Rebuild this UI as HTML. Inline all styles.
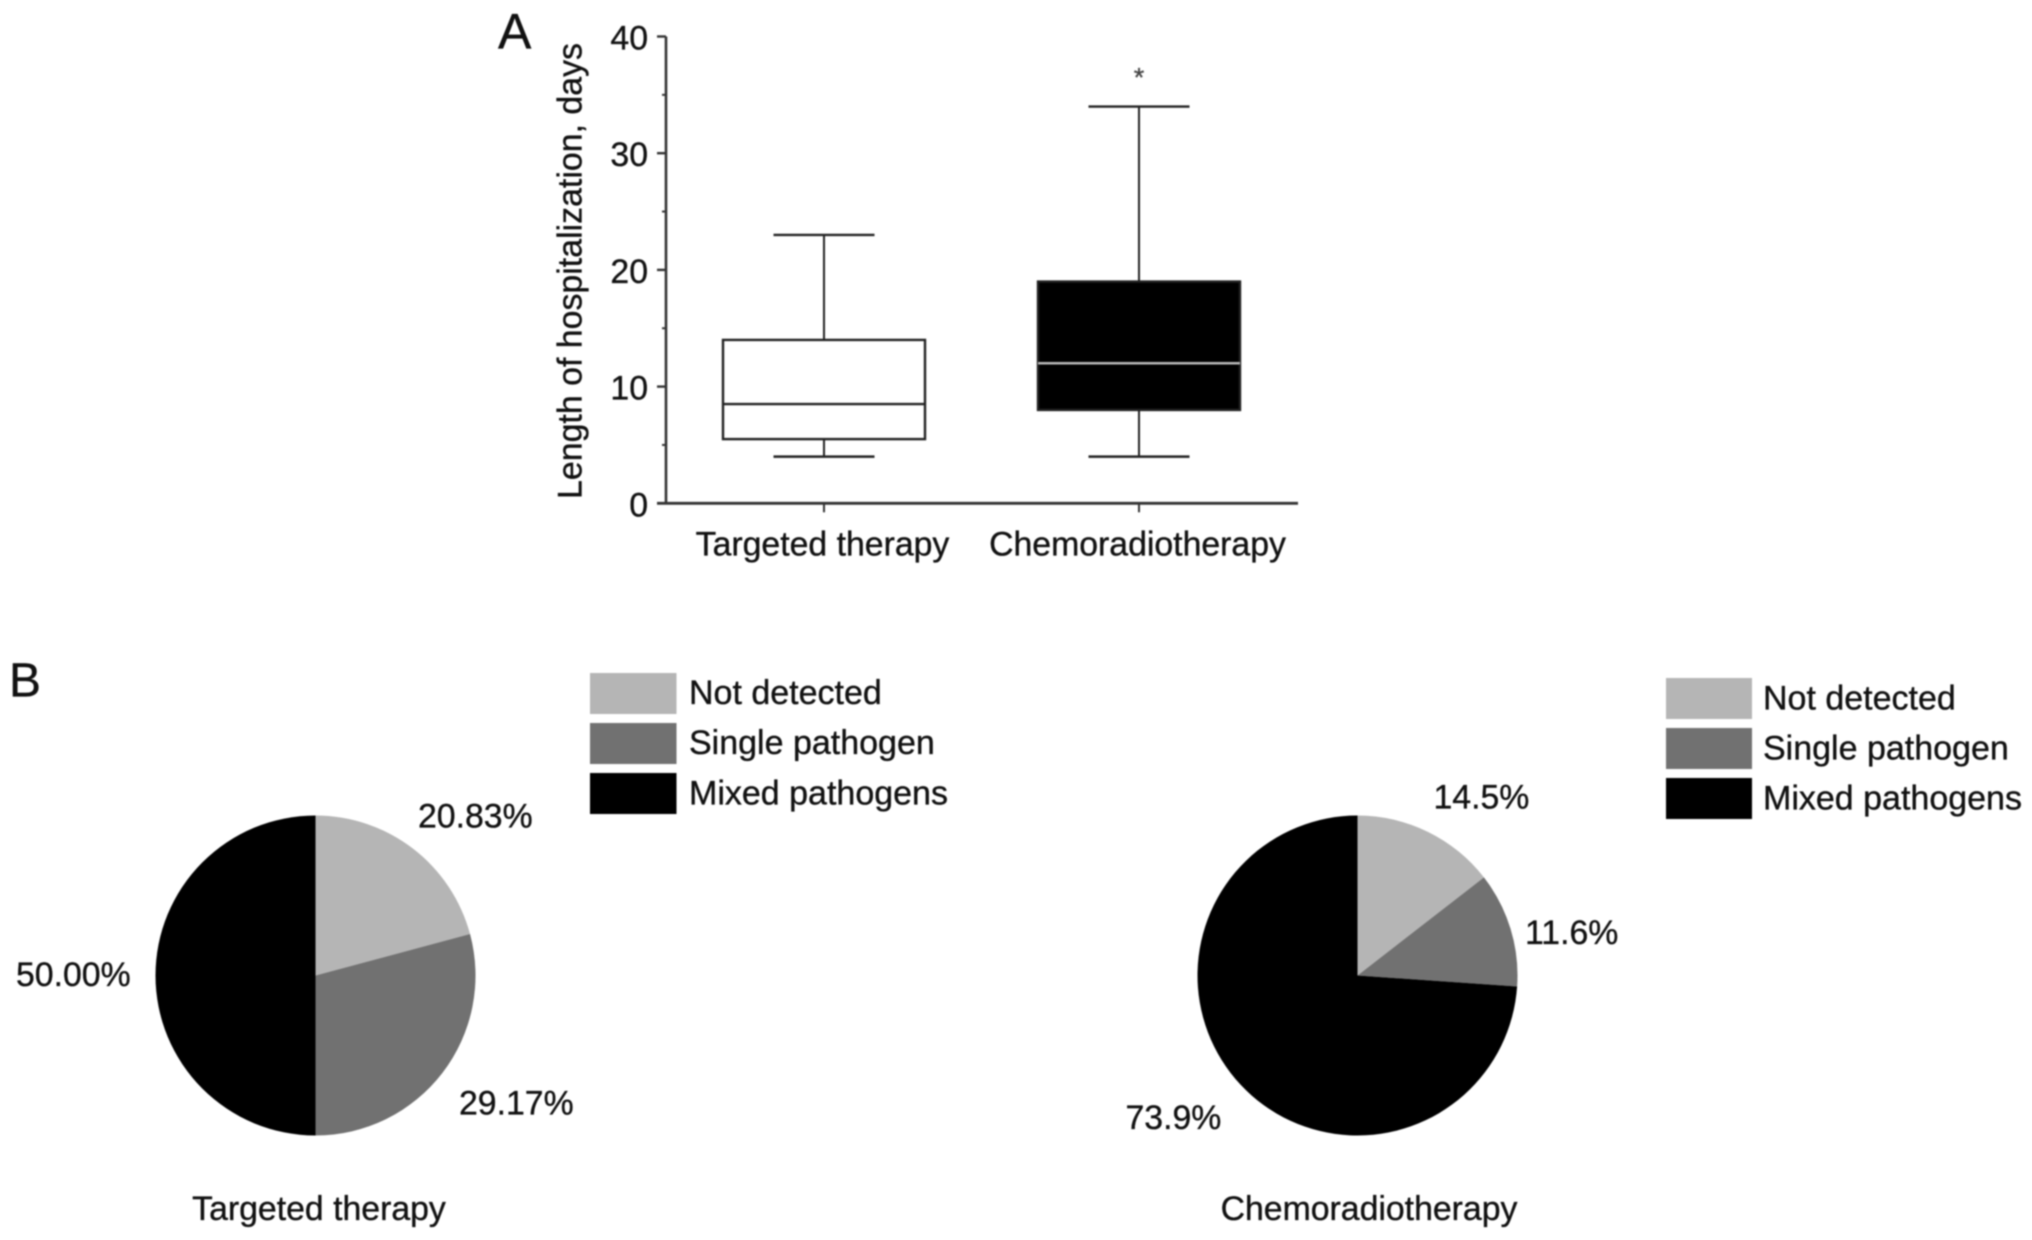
<!DOCTYPE html>
<html lang="en">
<head>
<meta charset="utf-8">
<title>Length of hospitalization and pathogen detection</title>
<style>
  html, body { margin: 0; padding: 0; background: #fff; }
  body { width: 2032px; height: 1240px; overflow: hidden; }
  svg { display: block; filter: blur(0.8px); }
  text { font-family: "Liberation Sans", sans-serif; font-size: 33.8px; fill: #111; stroke: #111; stroke-width: 0.35px; }
</style>
</head>
<body>
<svg id="figure" xmlns="http://www.w3.org/2000/svg" width="2032" height="1240" viewBox="0 0 2032 1240">
  <rect x="0" y="0" width="2032" height="1240" fill="#fff"/>

  <text x="498" y="48.5" style="font-size:50px">A</text>
  <text x="9" y="696.5" style="font-size:48px">B</text>

  <g id="box-chart"></g>
  <text transform="translate(581.5 271) rotate(-90)" text-anchor="middle" style="font-size:33.9px">Length of hospitalization, days</text>
  <text x="1139" y="86.5" text-anchor="middle" style="font-size:27px;fill:#444;stroke:#444">*</text>

  <g id="pie-targeted"></g>
  <text x="418" y="827.5">20.83%</text>
  <text x="459" y="1114.5">29.17%</text>
  <text x="16" y="986">50.00%</text>
  <text x="319" y="1220" text-anchor="middle">Targeted therapy</text>

  <g>
    <rect x="590" y="673" width="86.5" height="41" fill="#b5b5b5"/>
    <text x="689" y="704" style="font-size:34px">Not detected</text>
    <rect x="590" y="723" width="86.5" height="41" fill="#717171"/>
    <text x="689" y="754" style="font-size:34px">Single pathogen</text>
    <rect x="590" y="773" width="86.5" height="41" fill="#000"/>
    <text x="689" y="804.5" style="font-size:34px">Mixed pathogens</text>
  </g>

  <g id="pie-chemo"></g>
  <text x="1433.5" y="808.5">14.5%</text>
  <text x="1525" y="944">11.6%</text>
  <text x="1125.5" y="1129">73.9%</text>
  <text x="1369" y="1220" text-anchor="middle">Chemoradiotherapy</text>

  <g>
    <rect x="1666" y="678" width="86" height="41" fill="#b5b5b5"/>
    <text x="1763" y="709.5" style="font-size:34px">Not detected</text>
    <rect x="1666" y="728" width="86" height="41" fill="#717171"/>
    <text x="1763" y="759.5" style="font-size:34px">Single pathogen</text>
    <rect x="1666" y="778" width="86" height="41" fill="#000"/>
    <text x="1763" y="809.5" style="font-size:34px">Mixed pathogens</text>
  </g>
</svg>

<script>
const categories = ["Targeted therapy", "Chemoradiotherapy"];
const whiskerLow = [4, 4];
const quartile1 = [5.5, 8];
const medians = [8.5, 12];
const quartile3 = [14, 19];
const whiskerHigh = [23, 34];
const yMajorTicks = [0, 10, 20, 30, 40];
const yMinorTicks = [5, 15, 25, 35];
const targetedShares = [20.83, 29.17, 50.0];
const chemoShares = [14.5, 11.6, 73.9];

const SVG_NS = "http://www.w3.org/2000/svg";
const axisColor = "#333";
const boxFills = ["#fff", "#000"];
const medianColors = ["#222", "#b8b8b8"];
const sliceColors = ["#b5b5b5", "#717171", "#000"];
const sliceNames = ["not-detected", "single-pathogen", "mixed-pathogens"];

function yScale(v) { return 503.3 - v * (503.3 - 36.5) / 40; }
function xScale(i) { return 824 + i * 315; }

function node(tag, parent, attrs) {
  const el = document.createElementNS(SVG_NS, tag);
  for (const k in attrs) el.setAttribute(k, attrs[k]);
  parent.appendChild(el);
  return el;
}

const chart = document.getElementById("box-chart");

const yAxis = node("line", chart, { x1: 666, x2: 666, y1: yScale(40), y2: yScale(0), stroke: axisColor, "stroke-width": 2.6 });



const xAxis = node("line", chart, { x1: 657, x2: 1298, y1: yScale(0), y2: yScale(0), stroke: axisColor, "stroke-width": 2.8 });



yMajorTicks.forEach(function (t) {
  const tick = node("line", chart, { x1: 657, x2: 666, y1: yScale(t), y2: yScale(t), stroke: axisColor, "stroke-width": 2.4 });
  
  
  const label = node("text", chart, { x: 648, y: yScale(t) + 13, "text-anchor": "end" });
  
  
  label.textContent = String(t);
});

yMinorTicks.forEach(function (t) {
  const tick = node("line", chart, { x1: 662, x2: 666, y1: yScale(t), y2: yScale(t), stroke: axisColor, "stroke-width": 2 });
  
  
});

categories.forEach(function (name, i) {
  const cx = xScale(i);
  const boxHalf = 101;
  const capHalf = 50.5;

  const xTick = node("line", chart, { x1: cx, x2: cx, y1: yScale(0), y2: yScale(0) + 9, stroke: axisColor, "stroke-width": 2 });
  
  

  const label = node("text", chart, { x: cx - 1.5, y: 555.5, "text-anchor": "middle" });
  
  
  label.textContent = name;

  const whisker = node("line", chart, { x1: cx, x2: cx, y1: yScale(whiskerHigh[i]), y2: yScale(whiskerLow[i]), stroke: "#222", "stroke-width": 2 });
  
  

  const capHigh = node("line", chart, { x1: cx - capHalf, x2: cx + capHalf, y1: yScale(whiskerHigh[i]), y2: yScale(whiskerHigh[i]), stroke: "#222", "stroke-width": 2.4 });
  
  

  const capLow = node("line", chart, { x1: cx - capHalf, x2: cx + capHalf, y1: yScale(whiskerLow[i]), y2: yScale(whiskerLow[i]), stroke: "#222", "stroke-width": 2.4 });
  
  

  const box = node("rect", chart, {
    x: cx - boxHalf, width: boxHalf * 2,
    y: yScale(quartile3[i]), height: yScale(quartile1[i]) - yScale(quartile3[i]),
    fill: boxFills[i], stroke: "#222", "stroke-width": 2.4
  });
  
  

  const median = node("line", chart, { x1: cx - boxHalf, x2: cx + boxHalf, y1: yScale(medians[i]), y2: yScale(medians[i]), stroke: medianColors[i], "stroke-width": 2.4 });
  
  
});

function drawPie(group, shares, cx, cy, r) {
  const total = shares.reduce(function (a, b) { return a + b; }, 0);
  let cum = 0;
  shares.forEach(function (share, i) {
    const a0 = cum / total * 2 * Math.PI;
    cum += share;
    const a1 = cum / total * 2 * Math.PI;
    const large = a1 - a0 > Math.PI ? 1 : 0;
    const d = "M" + cx + " " + cy +
      " L" + (cx + r * Math.sin(a0)) + " " + (cy - r * Math.cos(a0)) +
      " A" + r + " " + r + " 0 " + large + " 1 " + (cx + r * Math.sin(a1)) + " " + (cy - r * Math.cos(a1)) + " Z";
    const slice = node("path", group, { d: d, fill: sliceColors[i] });
    
    
  });
}

drawPie(document.getElementById("pie-targeted"), targetedShares, 315.5, 975.5, 160);
drawPie(document.getElementById("pie-chemo"), chemoShares, 1357.5, 975.5, 160);
</script>
</body>
</html>
